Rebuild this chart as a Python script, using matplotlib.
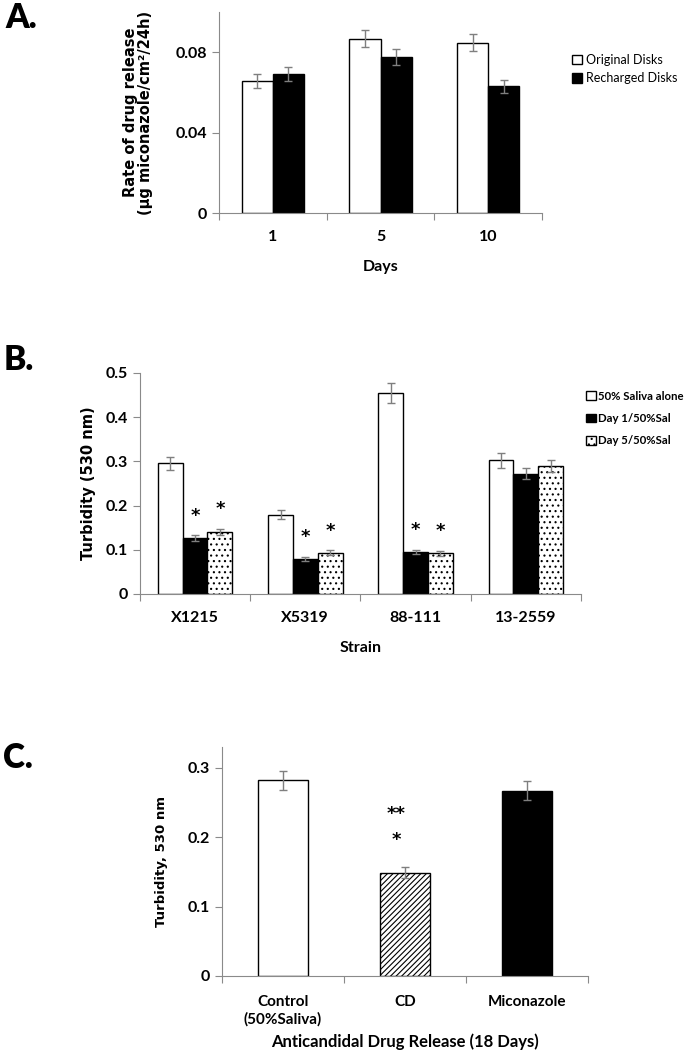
import matplotlib.pyplot as plt
import numpy as np
from matplotlib.ticker import FuncFormatter, FixedLocator

plt.rcParams['font.family'] = ['Lato', 'DejaVu Sans']
plt.rcParams['font.weight'] = 'bold'
plt.rcParams['axes.labelweight'] = 'bold'
plt.rcParams['font.size'] = 10
plt.rcParams['hatch.linewidth'] = 0.8

# Panel A data
days = ['1', '5', '10']
orig_disks = [0.0659, 0.0868, 0.0848]
orig_err = [0.0035, 0.0044, 0.0044]
rech_disks = [0.0691, 0.0778, 0.0631]
rech_err = [0.0036, 0.0039, 0.0032]

# Panel B data
strains = ['X1215', 'X5319', '88-111', '13-2559']
saliva = [0.296, 0.179, 0.454, 0.302]
saliva_err = [0.015, 0.010, 0.023, 0.016]
day1 = [0.126, 0.079, 0.095, 0.272]
day1_err = [0.0065, 0.0045, 0.0055, 0.012]
day5 = [0.140, 0.093, 0.092, 0.290]
day5_err = [0.0065, 0.0055, 0.005, 0.014]
signif_b = [True, True, True, False]

# Panel C data
treatments = ['Control\n(50%Saliva)', 'CD', 'Miconazole']
turbidity_c = [0.282, 0.149, 0.267]
turbidity_c_err = [0.014, 0.0074, 0.0134]

GRAY = '#8a8a8a'
ERR = dict(ecolor='#7f7f7f', elinewidth=1, capsize=3, capthick=1)
YLAB = ['DejaVu Sans']
STAR = dict(ha='center', va='center', fontsize=13, family=YLAB, fontweight='bold')

fig = plt.figure(figsize=(6.96, 10.5), dpi=100)


def style_axis(ax, n, labels, ymax, yticks):
    ax.set_xlim(-0.5, n - 0.5)
    ax.set_ylim(0, ymax)
    for s in ['top', 'right']:
        ax.spines[s].set_visible(False)
    for s in ['left', 'bottom']:
        ax.spines[s].set_color(GRAY)
    ax.xaxis.set_major_locator(FixedLocator(np.arange(-0.5, n, 1.0)))
    ax.xaxis.set_minor_locator(FixedLocator(np.arange(n)))
    ax.set_xticklabels([], minor=False)
    ax.set_xticklabels(labels, minor=True)
    ax.tick_params(axis='x', which='major', direction='out', length=5, color=GRAY)
    ax.tick_params(axis='x', which='minor', length=0, pad=12, labelsize=11.5)
    ax.set_yticks(yticks)
    ax.yaxis.set_major_formatter(FuncFormatter(lambda v, p: '%g' % v))
    ax.tick_params(axis='y', direction='out', length=5, color=GRAY, labelsize=11.5)


# ---------------- Panel A ----------------
axA = fig.add_axes([0.3147, 0.7971, 0.464, 0.1914])
x = np.arange(len(days))
w = 0.29
axA.bar(x - w / 2, orig_disks, w, color='white', edgecolor='black', linewidth=1,
        yerr=orig_err, error_kw=ERR, label='Original Disks')
axA.bar(x + w / 2, rech_disks, w, color='black', edgecolor='black', linewidth=1,
        yerr=rech_err, error_kw=ERR, label='Recharged Disks')
style_axis(axA, 3, days, 0.1, [0, 0.04, 0.08])
axA.set_xlabel('Days', fontsize=11.5, labelpad=12)
axA.set_ylabel('Rate of drug release\n(µg miconazole/cm²/24h)', fontsize=10.5,
               family=YLAB, labelpad=16, linespacing=1.05)
axA.legend(loc='upper left', bbox_to_anchor=(0.815, 1 - 49 / 1050),
           bbox_transform=fig.transFigure, frameon=False, handlelength=0.8,
           handleheight=0.8, handletextpad=0.3, labelspacing=0.5, borderaxespad=0,
           prop={'size': 9, 'weight': 'normal'})
fig.text(0.008, 1 - 18 / 1050, 'A.', fontsize=24, fontweight='heavy', va='center')

# ---------------- Panel B ----------------
axB = fig.add_axes([0.2011, 0.4343, 0.6336, 0.2105])
x = np.arange(len(strains))
w = 0.225
axB.bar(x - w, saliva, w, color='white', edgecolor='black', linewidth=1,
        yerr=saliva_err, error_kw=ERR, label='50% Saliva alone')
axB.bar(x, day1, w, color='black', edgecolor='black', linewidth=1,
        yerr=day1_err, error_kw=ERR, label='Day 1/50%Sal')
axB.bar(x + w, day5, w, color='white', edgecolor='black', linewidth=1, hatch='...',
        yerr=day5_err, error_kw=ERR, label='Day 5/50%Sal')
for i, sig in enumerate(signif_b):
    if sig:
        axB.text(x[i], day1[i] + day1_err[i] + 0.045, '*', **STAR)
        axB.text(x[i] + w, day5[i] + day5_err[i] + 0.045, '*', **STAR)
style_axis(axB, 4, strains, 0.5, [0, 0.1, 0.2, 0.3, 0.4, 0.5])
axB.set_xlabel('Strain', fontsize=11.5, labelpad=12)
axB.set_ylabel('Turbidity (530 nm)', fontsize=10.5, family=YLAB, labelpad=7)
axB.legend(loc='upper left', bbox_to_anchor=(0.836, 1 - 386 / 1050),
           bbox_transform=fig.transFigure, frameon=False, handlelength=0.8,
           handleheight=0.8, handletextpad=0.25, labelspacing=1.0, borderaxespad=0,
           prop={'size': 8.2})
fig.text(0.005, 1 - 360 / 1050, 'B.', fontsize=24, fontweight='heavy', va='center')

# ---------------- Panel C ----------------
axC = fig.add_axes([0.319, 0.0705, 0.5259, 0.2181])
x = np.arange(len(treatments))
w = 0.41
colors_c = ['white', 'white', 'black']
hatches_c = ['', '//////', '']
for i in range(len(treatments)):
    axC.bar(x[i], turbidity_c[i], w, color=colors_c[i], edgecolor='black', linewidth=1,
            hatch=hatches_c[i], yerr=turbidity_c_err[i], error_kw=ERR)
axC.text(x[1] - 0.07, turbidity_c[1] + 0.085, '**', **STAR)
axC.text(x[1] - 0.07, turbidity_c[1] + 0.047, '*', **STAR)
style_axis(axC, 3, treatments, 0.33, [0, 0.1, 0.2, 0.3])
axC.tick_params(axis='x', which='minor', pad=14, labelsize=11)
axC.set_xlabel('Anticandidal Drug Release (18 Days)', fontsize=12, labelpad=5)
axC.set_ylabel('Turbidity, 530 nm', fontsize=9.5, family=YLAB, labelpad=14)
fig.text(0.005, 1 - 758 / 1050, 'C.', fontsize=24, fontweight='heavy', va='center')

fig.savefig('out.png', dpi=100)
